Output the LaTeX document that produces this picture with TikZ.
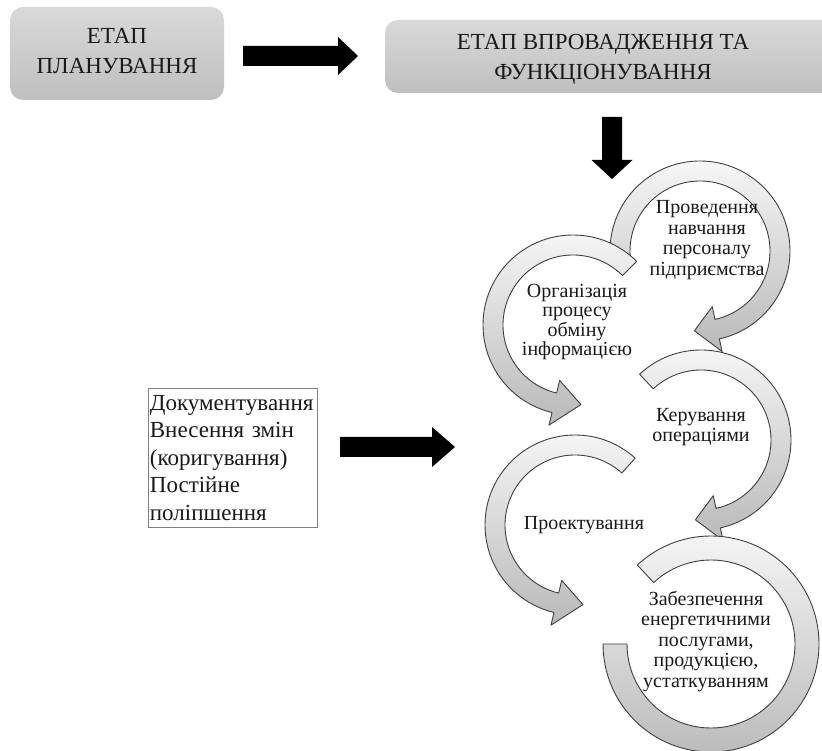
\documentclass[tikz,border=0pt]{standalone}
\usepackage{fontspec}
\setmainfont{Liberation Serif}
\usetikzlibrary{calc}

\tikzset{
  stagebox/.style={rounded corners=13pt, top color=gray!30, bottom color=gray!50, draw=none, inner sep=0pt},
  stagelabel/.style={font=\fontsize{23}{30}\selectfont, align=center, inner sep=0pt, text=black!90},
  blockarrowfill/.style={fill=black},
  ringarrow/.style={draw=black!75, line width=0.9pt, top color=gray!6, bottom color=gray!55, line join=round},
  ringlabel/.style={font=\fontsize{20}{20.5}\selectfont, align=center, inner sep=0pt, text=black!90},
  notebox/.style={draw=black!50, line width=0.8pt, fill=white, anchor=north west,
    font=\fontsize{23}{27.5}\selectfont, align=left, text width=166pt,
    inner xsep=1.5pt, inner ysep=0pt, minimum height=139pt, text=black!90}
}

% thick block arrow from #1 (tail) to #2 (tip):
% #3 half shaft width, #4 half head width, #5 head length
\newcommand\blockarrow[5]{%
  \coordinate (bahead) at ($(#2)!#5!(#1)$);
  \fill[blockarrowfill]
    ($(#1)!#3!90:(#2)$) -- ($(bahead)!#3!90:(#2)$) -- ($(bahead)!#4!90:(#2)$)
    -- (#2)
    -- ($(bahead)!#4!-90:(#2)$) -- ($(bahead)!#3!-90:(#2)$) -- ($(#1)!#3!-90:(#2)$) -- cycle;
}

% curved ring arrow round centre #1: tail at angle #2, head base at #3, tip at #4
\newcommand\ringarrowhead[4]{%
  \path[ringarrow, shift={(#1)}]
    (#2:90) arc[start angle=#2, end angle=#3, radius=90]
    -- (#3:103) -- (#4:80) -- (#3:57) -- (#3:70)
    arc[start angle=#3, end angle=#2, radius=70] -- cycle;
}

\begin{document}
\begin{tikzpicture}[x=1pt, y=1pt]
  \useasboundingbox (0,0) rectangle (822,750);
  \clip (0,0) rectangle (822,750);

  % stage boxes
  \node[stagebox, minimum width=214pt, minimum height=93pt] (plan) at (117,696.5) {};
  \node[stagelabel] (plantext) at (117,699) {ЕТАП\\ПЛАНУВАННЯ};
  \node[stagebox, minimum width=450pt, minimum height=73pt] (impl) at (610,693.5) {};
  \node[stagelabel] (impltext) at (603,691) {ЕТАП ВПРОВАДЖЕННЯ ТА\\ФУНКЦІОНУВАННЯ};

  % block arrows
  \coordinate (a1s) at (243,694);
  \coordinate (a1e) at (358,694);
  \coordinate (a2s) at (612,633);
  \coordinate (a2e) at (612,571);
  \coordinate (a3s) at (340,303);
  \coordinate (a3e) at (455,303);
  \blockarrow{a1s}{a1e}{10pt}{19pt}{20pt}
  \blockarrow{a2s}{a2e}{10pt}{20.5pt}{19pt}
  \blockarrow{a3s}{a3e}{10pt}{20pt}{23pt}

  % centres of the ring arrows
  \coordinate (c1) at (700,499);
  \coordinate (c2) at (573,425);
  \coordinate (c3) at (701,310);
  \coordinate (c4) at (575,225);
  \coordinate (c5) at (711,106);

  \ringarrowhead{c1}{185}{-77.6}{-94}
  \ringarrowhead{c2}{45}{256.5}{275.7}
  \ringarrowhead{c3}{133}{-77.6}{-94}
  \ringarrowhead{c4}{48}{256.5}{275.7}
  \path[ringarrow, shift={(c5)}]
    (133:108) arc[start angle=133, end angle=-180, radius=108]
    -- (180:84) arc[start angle=-180, end angle=133, radius=84] -- cycle;

  % ring labels
  \node[ringlabel] (r1) at (707,510) {Проведення\\навчання\\персоналу\\підприємства};
  \node[ringlabel, font=\fontsize{20}{19.5}\selectfont] (r2) at (577,428) {Організація\\процесу\\обміну\\інформацією};
  \node[ringlabel] (r3) at (701,323) {Керування\\операціями};
  \node[ringlabel] (r4) at (584,225) {Проектування};
  \node[ringlabel] (r5) at (706,109) {Забезпечення\\енергетичними\\послугами,\\продукцією,\\устаткуванням};

  % notes box
  \node[notebox] (notes) at (148,362) {Документування\\Внесення змін\\(коригування)\\Постійне\\поліпшення};
\end{tikzpicture}
\end{document}
